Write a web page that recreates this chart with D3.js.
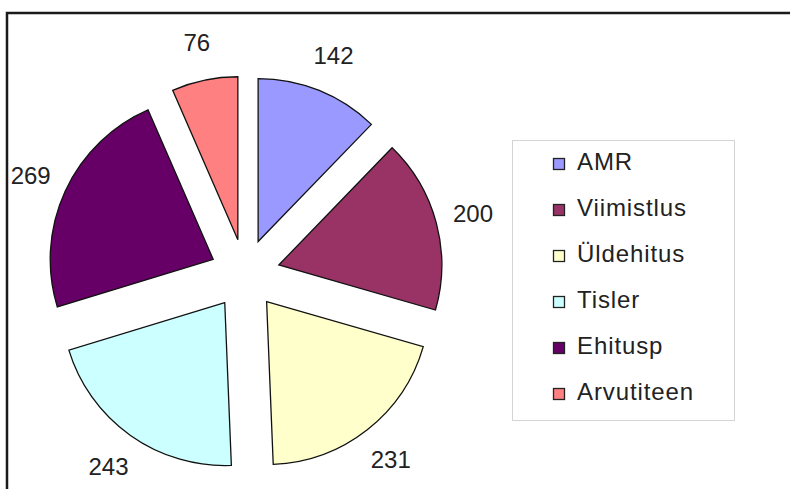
<!DOCTYPE html>
<html lang="et">
<head>
    <meta charset="UTF-8">
    <title>Exploded pie</title>
    <script src="https://d3js.org/d3.v7.min.js"></script>
    <style>
        body {
            margin: 0;
            background: #ffffff;
            font-family: "Liberation Sans", Arial, sans-serif;
        }
    </style>
</head>
<body>
<div id="chart"></div>
<script>
    // data
    const categories = ["AMR", "Viimistlus", "Üldehitus", "Tisler", "Ehitusp", "Arvutiteen"];
    const values = [142, 200, 231, 243, 269, 76];
    const colors = ["#9999ff", "#993366", "#ffffcc", "#ccffff", "#660066", "#ff8080"];

    const W = 790, H = 489;
    const cx = 245, cy = 274;
    const radius = 163;
    const explode = 35;
    const labelRadius = 236;

    const svg = d3.select("#chart").append("svg")
        .attr("width", W)
        .attr("height", H);

    // outer frame
    svg.append("rect")
        .attr("x", 7)
        .attr("y", 13)
        .attr("width", W + 20)
        .attr("height", H + 20)
        .attr("fill", "none")
        .attr("stroke", "#1a1a1a")
        .attr("stroke-width", 2.5);

    const rows = categories.map((c, i) => ({ name: c, value: values[i], color: colors[i] }));

    const pie = d3.pie().sort(null).value(d => d.value);
    const arcs = pie(rows);

    const arc = d3.arc().innerRadius(0).outerRadius(radius);

    const g = svg.append("g").attr("transform", `translate(${cx},${cy})`);

    g.selectAll("path.slice")
        .data(arcs)
        .enter()
        .append("path")
        .attr("class", "slice")
        .attr("transform", d => {
            const a = (d.startAngle + d.endAngle) / 2;
            return `translate(${explode * Math.sin(a)},${-explode * Math.cos(a)})`;
        })
        .attr("d", arc)
        .attr("fill", d => d.data.color)
        .attr("stroke", "#111")
        .attr("stroke-width", 1.3)
        .attr("stroke-linejoin", "miter");

    // value labels
    g.selectAll("text.val")
        .data(arcs)
        .enter()
        .append("text")
        .attr("class", "val")
        .attr("x", d => labelRadius * Math.sin((d.startAngle + d.endAngle) / 2))
        .attr("y", d => -labelRadius * Math.cos((d.startAngle + d.endAngle) / 2))
        .attr("text-anchor", "middle")
        .attr("dominant-baseline", "central")
        .attr("font-size", 24)
        .attr("fill", "#222")
        .text(d => d.data.value);

    // legend
    const legend = svg.append("g");
    legend.append("rect")
        .attr("x", 512.5)
        .attr("y", 140.5)
        .attr("width", 222)
        .attr("height", 280)
        .attr("fill", "#fff")
        .attr("stroke", "#d4d4d4")
        .attr("stroke-width", 1);

    const items = legend.selectAll("g.item")
        .data(rows)
        .enter()
        .append("g")
        .attr("class", "item")
        .attr("transform", (d, i) => `translate(553,${170 + i * 46})`);

    items.append("rect")
        .attr("x", 0.5)
        .attr("y", -11.5)
        .attr("width", 11)
        .attr("height", 11)
        .attr("fill", d => d.color)
        .attr("stroke", "#222")
        .attr("stroke-width", 1.3);

    items.append("text")
        .attr("x", 24)
        .attr("y", 0)
        .attr("font-size", 24)
        .attr("letter-spacing", 0.9)
        .attr("fill", "#222")
        .text(d => d.name);
</script>
</body>
</html>
